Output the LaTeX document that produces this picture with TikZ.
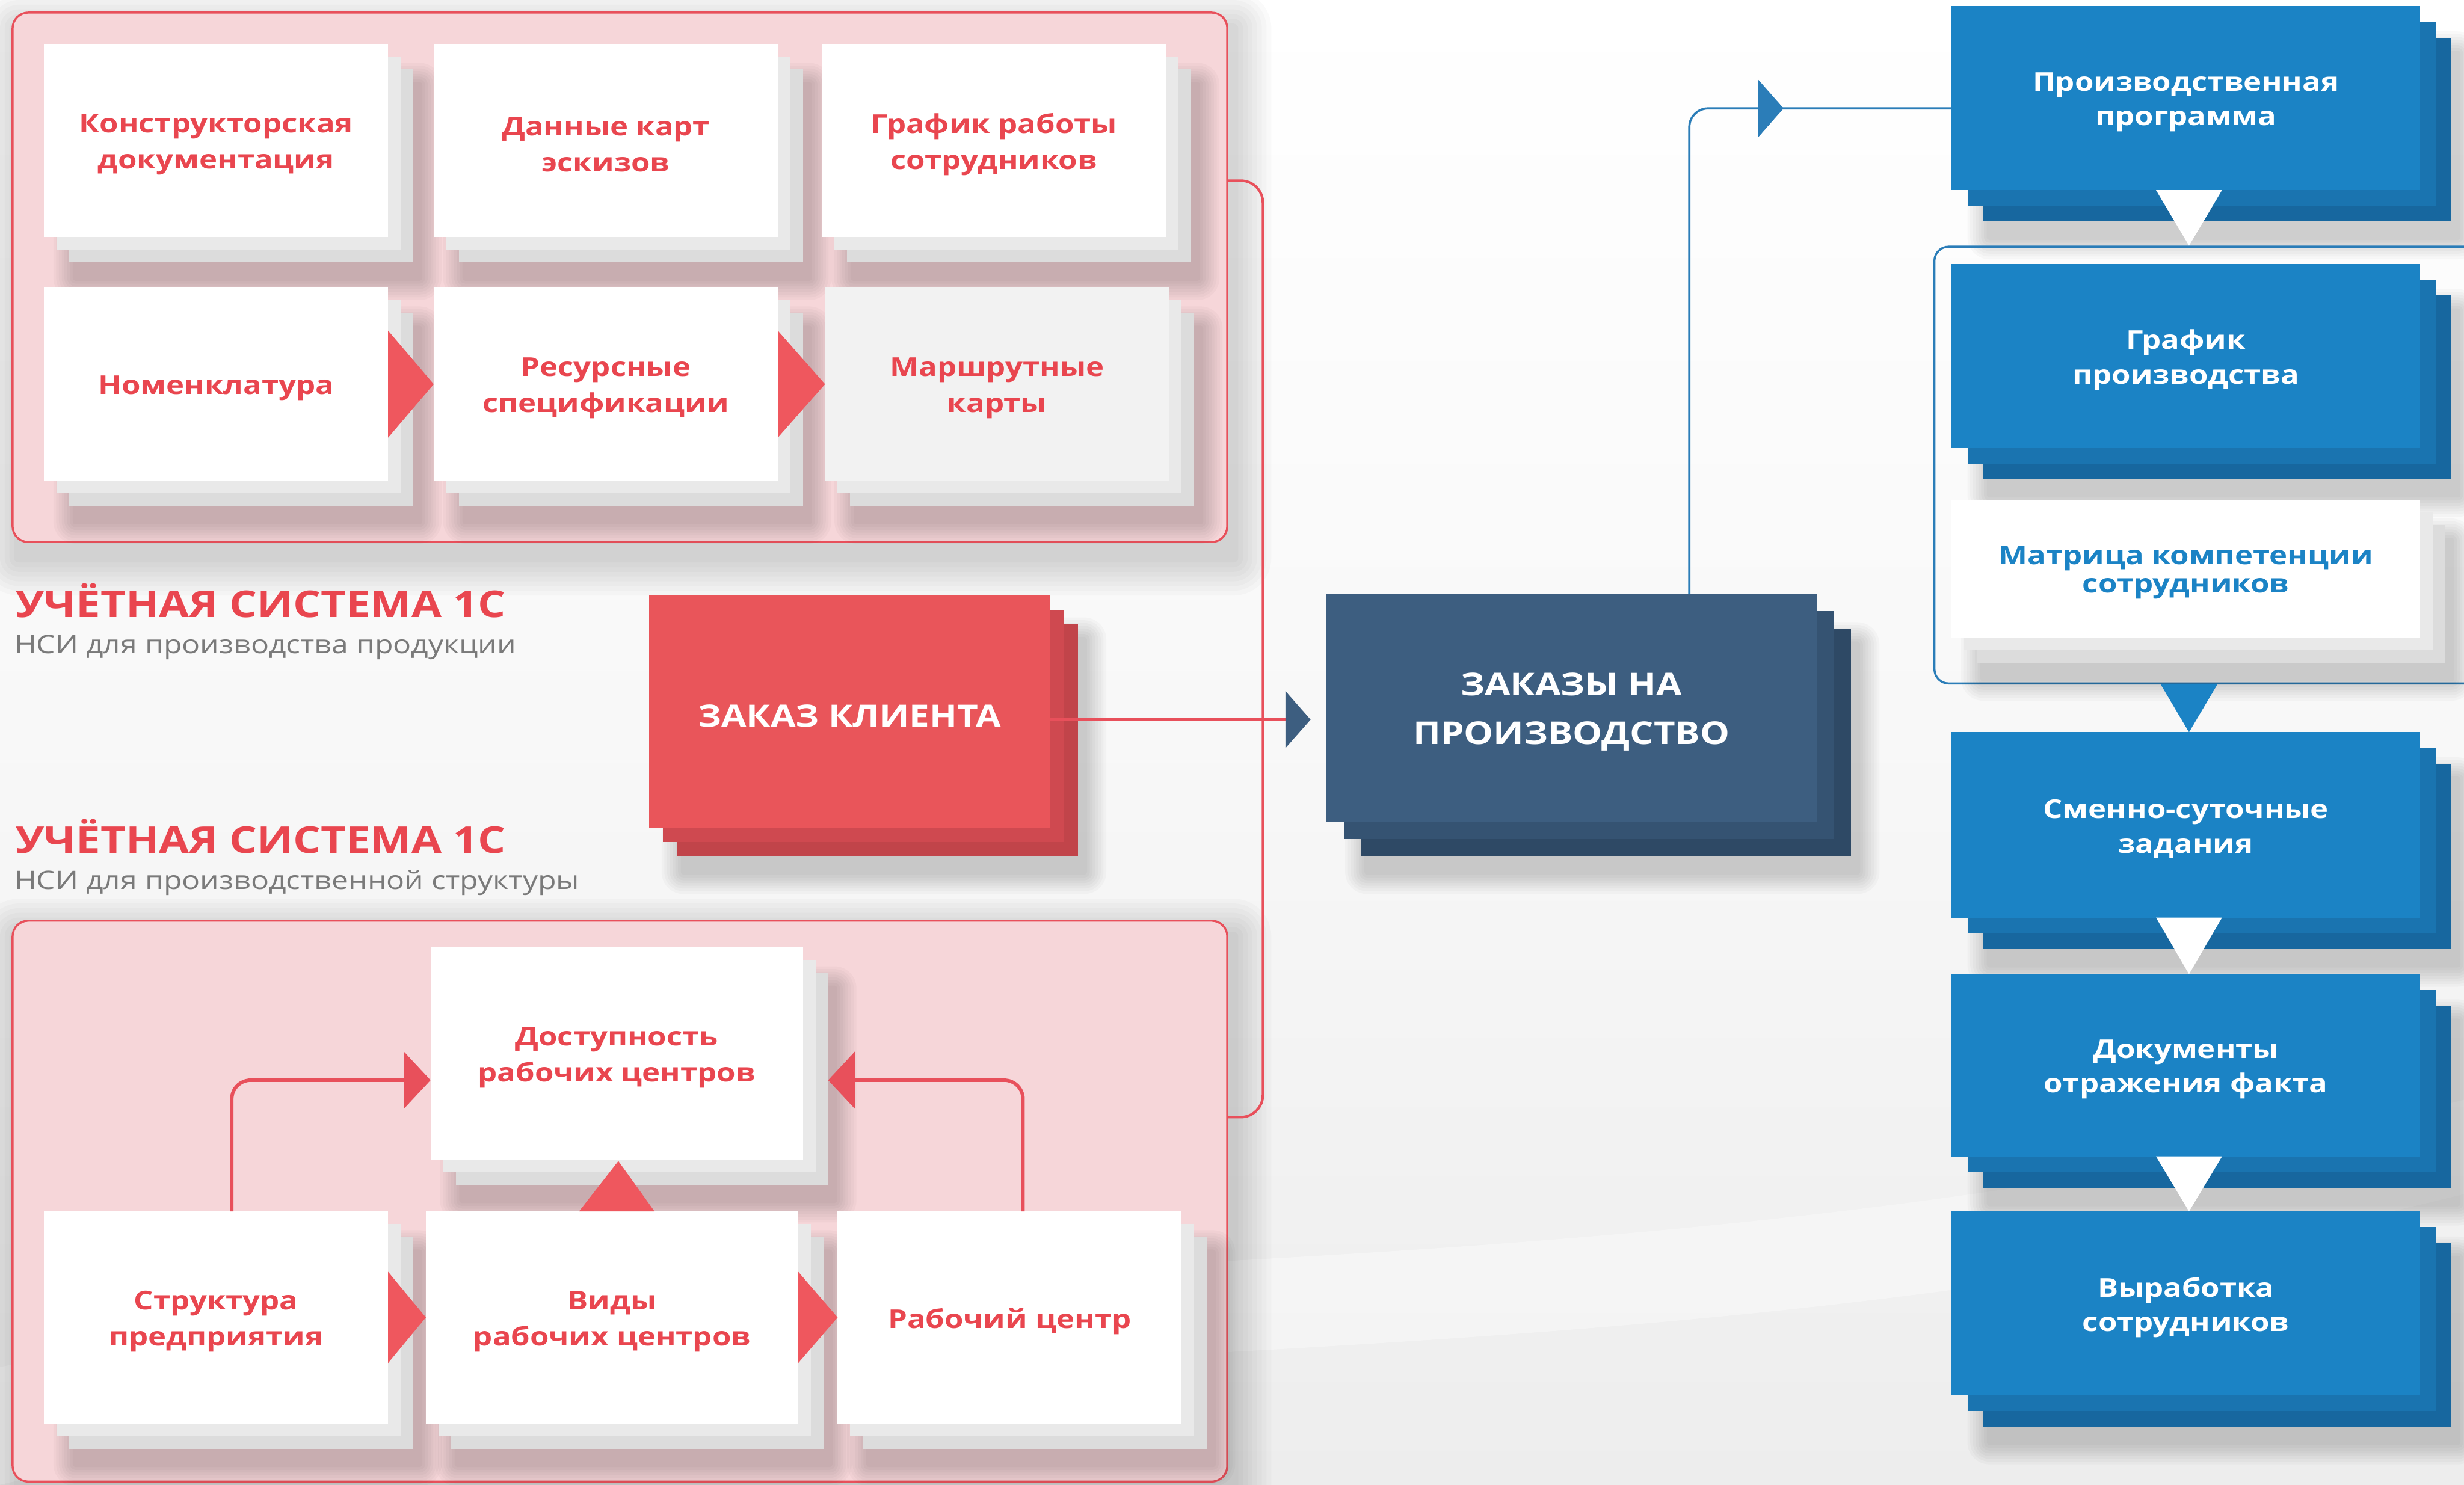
\documentclass[tikz,border=0pt]{standalone}
\usepackage{fontspec}
\setmainfont{Open Sans}[FakeStretch=1.18]
\usetikzlibrary{arrows.meta,fit,calc,decorations.markings}

\definecolor{bgc}{HTML}{EDEDED}
\definecolor{pinkc}{HTML}{F6D6D9}
\definecolor{redc}{HTML}{E8505B}
\definecolor{redtxt}{HTML}{E9464F}
\definecolor{redF}{HTML}{E9555A}
\definecolor{redA}{HTML}{CF4950}
\definecolor{redB}{HTML}{C1444A}
\definecolor{navyF}{HTML}{3D5E80}
\definecolor{navyA}{HTML}{355372}
\definecolor{navyB}{HTML}{2E4965}
\definecolor{blueF}{HTML}{1B83C5}
\definecolor{blueA}{HTML}{1A74B0}
\definecolor{blueB}{HTML}{17679F}
\definecolor{whA}{HTML}{E9E9E9}
\definecolor{whB}{HTML}{DCDCDC}
\definecolor{grayF}{HTML}{F2F2F2}
\definecolor{subgray}{HTML}{7A7A7A}
\definecolor{lineblue}{HTML}{2B7DB8}
\definecolor{tric}{HTML}{EF575E}

\tikzset{
  boxnode/.style={inner sep=0pt, outer sep=0pt},
  cardtxt/.style={align=center, inner sep=0pt, yshift=-2.5pt, font=\bfseries\fontsize{16.5}{23}\selectfont},
  wF/.style={boxnode, fill=white},  wT/.style={cardtxt, text=redtxt},
  wA/.style={fill=whA}, wB/.style={fill=whB},
  gF/.style={boxnode, fill=grayF}, gT/.style={cardtxt, text=redtxt},
  gA/.style={fill=whA}, gB/.style={fill=whB},
  wbF/.style={boxnode, fill=white}, wbT/.style={cardtxt, text=blueF, font=\bfseries\fontsize{16.5}{18}\selectfont},
  wbA/.style={fill=whA}, wbB/.style={fill=whB},
  bF/.style={boxnode, fill=blueF}, bT/.style={cardtxt, text=white, font=\bfseries\fontsize{16.5}{22}\selectfont},
  bA/.style={fill=blueA}, bB/.style={fill=blueB},
  rF/.style={boxnode, fill=redF}, rT/.style={cardtxt, text=white, font=\bfseries\fontsize{19.5}{24}\selectfont},
  rA/.style={fill=redA}, rB/.style={fill=redB},
  nF/.style={boxnode, fill=navyF}, nT/.style={cardtxt, text=white, font=\bfseries\fontsize{20}{31}\selectfont},
  nA/.style={fill=navyA}, nB/.style={fill=navyB},
  panel/.style={fill=pinkc, draw=redc, line width=1.3pt, rounded corners=10pt, inner sep=0pt},
  grpbox/.style={draw=lineblue, line width=1.3pt, rounded corners=9pt, inner sep=0pt},
  redconn/.style={draw=redc, line width=2.2pt},
  blueconn/.style={draw=lineblue, line width=1.4pt},
  redtri/.style={fill=tric},
  whtri/.style={fill=white},
  bltri/.style={fill=blueF},
  head/.style={inner sep=0pt, text=redtxt, font=\bfseries\fontsize{23.5}{26}\selectfont},
  subt/.style={inner sep=0pt, text=subgray, font=\fontsize{16.2}{19}\selectfont},
}

% soft shadow: #1 x1, #2 y1, #3 x2, #4 y2, #5 spread, #6 opacity per step
\newcommand\softshade[6]{%
  \foreach \k in {1,...,8} {%
    \fill[black, opacity=#6, rounded corners=\k*#5/8] (#1-\k*#5/8+4, #2-\k*#5/8+10) rectangle (#3+\k*#5/8+4, #4+\k*#5/8+10);
  }%
}

% #1 kind, #2 name, #3 x1, #4 y1, #5 x2, #6 y2, #7 layer offset, #8 text
\newcommand\cardstack[8]{%
  \softshade{#3+2*#7}{#4+2*#7}{#5+2*#7}{#6+2*#7}{14}{0.022}
  \fill[#1B] (#3+2*#7, #4+2*#7) rectangle (#5+2*#7, #6+2*#7);
  \fill[#1A] (#3+#7, #4+#7) rectangle (#5+#7, #6+#7);
  \node[#1F, fit={(#3,#4) (#5,#6)}] (#2) {};
  \node[#1T] (#2t) at (#2.center) {#8};
}

\begin{document}
\begin{tikzpicture}[x=1pt, y=-1pt]
\useasboundingbox (0,0) rectangle (1568,945);
\shade[top color=white, bottom color=bgc, middle color=white!60!bgc] (0,0) rectangle (1568,945);
\fill[white, opacity=0.35] (0,870) .. controls (500,780) and (1000,840) .. (1568,700) -- (1568,760) .. controls (1000,900) and (500,830) .. (0,945) -- cycle;

% ---------- top panel ----------
\softshade{8}{8}{781}{345}{24}{0.018}
\node[panel, fit={(8,8) (781,345)}] (ptop) {};
\cardstack{w}{kd}{28}{28}{247}{151}{8}{Конструкторская\\документация}
\cardstack{w}{dk}{276}{28}{495}{151}{8}{Данные карт\\эскизов}
\cardstack{w}{gr}{523}{28}{742}{151}{8}{График работы\\сотрудников}
\cardstack{w}{nom}{28}{183}{247}{306}{8}{Номенклатура}
\cardstack{w}{res}{276}{183}{495}{306}{8}{Ресурсные\\спецификации}
\cardstack{g}{mar}{525}{183}{744}{306}{8}{Маршрутные\\карты}
\fill[redtri] ($(nom.east)+(0,-34)$) -- (res.west) -- ($(nom.east)+(0,34)$) -- cycle;
\fill[redtri] ($(res.east)+(0,-34)$) -- (mar.west) -- ($(res.east)+(0,34)$) -- cycle;

% ---------- headings ----------
\node[head, anchor=base west] (h1) at (10,393) {УЧЁТНАЯ СИСТЕМА 1С};
\node[subt, anchor=base west] (s1) at (9,416) {НСИ для производства продукции};
\node[head, anchor=base west] (h2) at (10,543) {УЧЁТНАЯ СИСТЕМА 1С};
\node[subt, anchor=base west] (s2) at (9,566) {НСИ для производственной структуры};

% ---------- bottom panel ----------
\softshade{8}{586}{781}{943}{24}{0.018}
\node[panel, fit={(8,586) (781,943)}] (pbot) {};
\cardstack{w}{dost}{274}{603}{511}{738}{8}{Доступность\\рабочих центров}
\cardstack{w}{str}{28}{771}{247}{906}{8}{Структура\\предприятия}
\cardstack{w}{vid}{271}{771}{508}{906}{8}{Виды\\рабочих центров}
\cardstack{w}{rc}{533}{771}{752}{906}{8}{Рабочий центр}
\fill[redtri] ($(str.east)+(0,-29)$) -- (vid.west) -- ($(str.east)+(0,29)$) -- cycle;
\fill[redtri] ($(vid.east)+(0,-29)$) -- (rc.west) -- ($(vid.east)+(0,29)$) -- cycle;
\fill[redtri] ($(vid.north)+(-21,0)$) -- ($(vid.north)+(4,-32)$) -- ($(vid.north)+(27,0)$) -- cycle;
\draw[redconn, rounded corners=12pt, -{Triangle[length=17pt,width=36pt]}]
  ($(str.north)+(10,0)$) |- ($(dost.west)+(0,17)$);
\draw[redconn, rounded corners=12pt, -{Triangle[length=17pt,width=36pt]}]
  ($(rc.north)+(8.5,0)$) |- ($(dost.east)+(16,17)$);

% ---------- vertical red link ----------
\draw[redconn, line width=1.6pt, rounded corners=14pt]
  ([yshift=61.5pt]ptop.east) -- ++(22,0) |- ([yshift=53.5pt]pbot.east);

% ---------- customer order ----------
\cardstack{r}{kk}{413}{379}{668}{527}{9}{ЗАКАЗ КЛИЕНТА}

% ---------- production orders ----------
\cardstack{n}{zak}{844}{378}{1156}{523}{11}{ЗАКАЗЫ НА\\ПРОИЗВОДСТВО}
\draw[redconn, line width=1.6pt, shorten >=10pt, -{Triangle[length=16pt,width=36pt,color=navyF]}]
  ([yshift=-5pt]kk.east) -- ([yshift=-5pt]kk.east -| zak.west);

% ---------- right column ----------
\cardstack{b}{prog}{1242}{4}{1540}{121}{10}{Производственная\\программа}
\node[grpbox, fit={(1231,157) (1600,435)}] (grp) {};
\cardstack{b}{gp}{1242}{168}{1540}{285}{10}{График\\производства}
\cardstack{wb}{mat}{1242}{318}{1540}{406}{8}{Матрица компетенции\\сотрудников}
\cardstack{b}{sm}{1242}{466}{1540}{584}{10}{Сменно-суточные\\задания}
\cardstack{b}{doc}{1242}{620}{1540}{736}{10}{Документы\\отражения факта}
\cardstack{b}{vyr}{1242}{771}{1540}{888}{10}{Выработка\\сотрудников}

\fill[whtri] ($(prog.south)+(-19,0)$) -- ($(prog.south |- grp.north)+(2,0)$) -- ($(prog.south)+(23,0)$) -- cycle;
\fill[bltri] ($(sm.north |- grp.south)+(-16,0)$) -- ($(sm.north)+(2,0)$) -- ($(sm.north |- grp.south)+(20,0)$) -- cycle;
\fill[whtri] ($(sm.south)+(-19,0)$) -- ($(doc.north)+(2,0)$) -- ($(sm.south)+(23,0)$) -- cycle;
\fill[whtri] ($(doc.south)+(-19,0)$) -- ($(vyr.north)+(2,0)$) -- ($(doc.south)+(23,0)$) -- cycle;

\draw[blueconn, rounded corners=12pt, postaction={decorate},
  decoration={markings, mark=at position -107pt with {\arrow{Triangle[length=16pt,width=36pt]}}}]
  ($(zak.north)+(75,0)$) |- ($(prog.west)+(0,6.5)$);
\end{tikzpicture}
\end{document}
